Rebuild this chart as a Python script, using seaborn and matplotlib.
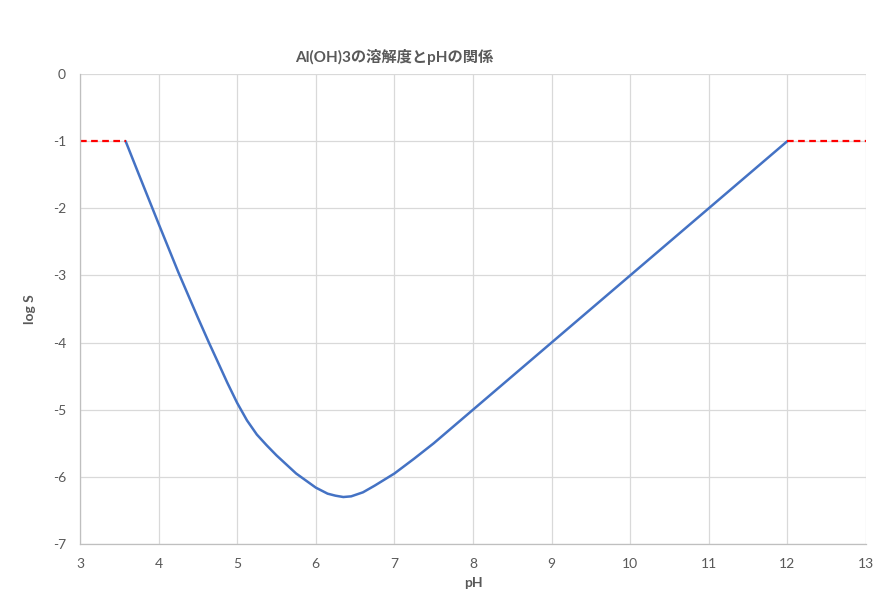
import matplotlib
matplotlib.use("Agg")
import matplotlib.pyplot as plt
import numpy as np
import pandas as pd
import seaborn as sns

# curve (pH, log S)
ph = [3.58, 3.75, 4.0, 4.25, 4.5, 4.64, 4.75, 4.875, 5.0, 5.125, 5.25, 5.375,
      5.5, 5.75, 6.0, 6.15, 6.25, 6.35, 6.45, 6.6, 6.75, 7.0, 7.25, 7.5, 7.75,
      8.0, 9.0, 10.0, 11.0, 12.0]
log_s = [-1.0, -1.5, -2.23, -2.95, -3.63, -4.0, -4.28, -4.6, -4.9, -5.16, -5.37,
         -5.53, -5.68, -5.95, -6.16, -6.25, -6.28, -6.30, -6.29, -6.23, -6.13,
         -5.95, -5.73, -5.5, -5.25, -5.0, -4.0, -3.0, -2.0, -1.0]

# red dashed caps at log S = -1
cap_left_x = [3.0, 3.58]
cap_right_x = [12.0, 13.0]
cap_y = [-1.0, -1.0]

x_ticks = [3, 4, 5, 6, 7, 8, 9, 10, 11, 12, 13]
y_ticks = [0, -1, -2, -3, -4, -5, -6, -7]

sns.set_style("white")
plt.rcParams['font.family'] = ['Lato', 'Noto Sans CJK JP', 'DejaVu Sans']
plt.rcParams['axes.unicode_minus'] = False

fig = plt.figure(figsize=(8.87, 6.0), dpi=100)
ax = fig.add_axes([0.0902, 0.0933, 0.8861, 0.7834])

curve = pd.DataFrame({"pH": ph, "logS": log_s})
sns.lineplot(data=curve, x="pH", y="logS", ax=ax, color="#4472c4", lw=1.8, sort=False)
sns.lineplot(x=cap_left_x, y=cap_y, ax=ax, color="#ff0000", lw=1.6, linestyle=(0, (3, 2)))
sns.lineplot(x=cap_right_x, y=cap_y, ax=ax, color="#ff0000", lw=1.6, linestyle=(0, (3, 2)))

ax.set_xlim(3, 13)
ax.set_ylim(-7, 0)
ax.set_xticks(x_ticks)
ax.set_yticks(y_ticks)
ax.grid(True, color="#d9d9d9", lw=0.9)
ax.set_axisbelow(True)
for s in ["top", "right"]:
    ax.spines[s].set_visible(False)
for s in ["left", "bottom"]:
    ax.spines[s].set_color("#bfbfbf")
    ax.spines[s].set_linewidth(0.9)
ax.tick_params(axis="both", length=0, colors="#595959", labelsize=10)
ax.tick_params(axis="x", pad=10)
ax.tick_params(axis="y", pad=10)

ax.set_xlabel("pH", fontsize=10, fontweight="bold", color="#595959", labelpad=5)
ax.set_ylabel("log S", fontsize=10, fontweight="bold", color="#595959", labelpad=12)
fig.text(0.444, 0.905, "Al(OH)3の溶解度とpHの関係", fontsize=11, fontweight="bold",
         color="#595959", ha="center", va="center")

fig.savefig("out.png", dpi=100)
